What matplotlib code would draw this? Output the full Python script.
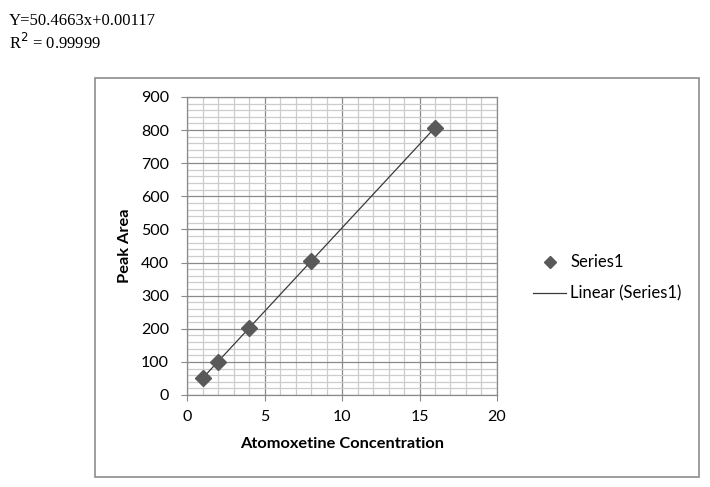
import matplotlib
matplotlib.use('Agg')
import matplotlib.pyplot as plt
import matplotlib.patches as patches
from matplotlib.lines import Line2D
from matplotlib.ticker import MultipleLocator
import numpy as np

# --- DATA ---
conc = [1, 2, 4, 8, 16]
peak_area = [50.5, 100.9, 201.9, 403.7, 807.5]
eq_text = "Y=50.4663x+0.00117"
r2_text = "R$^2$ = 0.99999"

W, H = 710, 487
fig = plt.figure(figsize=(W / 100, H / 100), dpi=100)

# chart area border (Excel style)
fig.patches.append(patches.Rectangle((95 / W, 1 - 477 / H), 604 / W, 399 / H,
                                     transform=fig.transFigure, fill=False,
                                     edgecolor='#8c8c8c', linewidth=1.2))

fig.text(9 / W, 1 - 21 / H, eq_text, family='Liberation Serif', fontsize=12, va='center')
fig.text(9 / W, 1 - 43 / H, r2_text, family='Liberation Serif', fontsize=12, va='center')

ax = fig.add_axes([187 / W, 1 - 395 / H, 310 / W, 298 / H])
ax.set_xlim(0, 20)
ax.set_ylim(0, 900)
ax.xaxis.set_major_locator(MultipleLocator(5))
ax.xaxis.set_minor_locator(MultipleLocator(1))
ax.yaxis.set_major_locator(MultipleLocator(100))
ax.yaxis.set_minor_locator(MultipleLocator(20))
ax.grid(which='major', color='#8a8a8a', linewidth=0.9)
ax.grid(which='minor', color='#cccccc', linewidth=0.9)
ax.set_axisbelow(True)
for s in ax.spines.values():
    s.set_color('#8a8a8a')
    s.set_linewidth(0.9)
ax.tick_params(which='major', length=4, color='#8a8a8a', labelsize=11.5)
ax.tick_params(axis='y', pad=9)
ax.tick_params(axis='x', pad=7)
ax.tick_params(which='minor', length=0)
for lbl in ax.get_xticklabels() + ax.get_yticklabels():
    lbl.set_family('Lato')

# trendline
k, b = np.polyfit(conc, peak_area, 1)
xs = np.array([min(conc), max(conc)])
ax.plot(xs, k * xs + b, color='#3a3a3a', linewidth=0.9, zorder=3)
ax.plot(conc, peak_area, linestyle='none', marker='D', markersize=8.5,
        color='#595959', markeredgecolor='#595959', zorder=4)

ax.set_xlabel("Atomoxetine Concentration", family='Lato', fontweight='bold',
              fontsize=11.8, labelpad=9)
ax.set_ylabel("Peak Area", family='Lato', fontweight='bold', fontsize=11.8, labelpad=6)

handles = [Line2D([], [], linestyle='none', marker='D', markersize=6, color='#595959'),
           Line2D([], [], color='#3a3a3a', linewidth=0.9)]
fig.legend(handles, ['Series1', 'Linear (Series1)'], loc='center left',
           bbox_to_anchor=(533 / W, 1 - 278 / H), frameon=False,
           borderaxespad=0, borderpad=0,
           prop={'family': 'Lato', 'size': 12}, handlelength=2.0,
           handletextpad=0.25, labelspacing=0.9)

fig.savefig('out.png', dpi=100)
